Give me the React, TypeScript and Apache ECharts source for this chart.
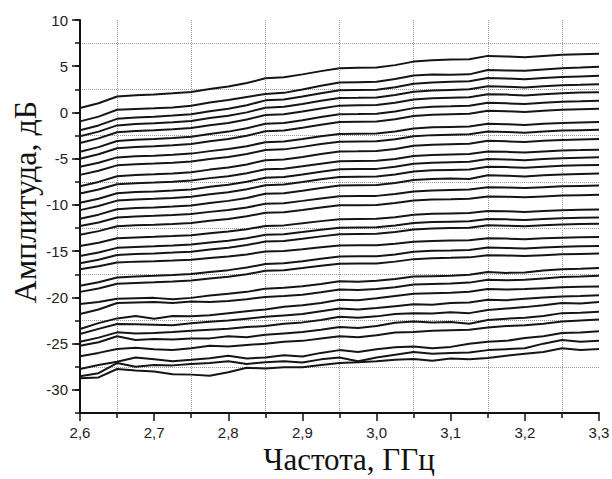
import React, { useEffect, useRef } from "react";
import * as echarts from "echarts";

const FREQ = [2.6, 2.625, 2.65, 2.675, 2.7, 2.725, 2.75, 2.775, 2.8, 2.825, 2.85, 2.875, 2.9, 2.925, 2.95, 2.975, 3.0, 3.025, 3.05, 3.075, 3.1, 3.125, 3.15, 3.175, 3.2, 3.225, 3.25, 3.275, 3.3];

const C01 = [0.48, 1.0, 1.73, 1.86, 1.95, 2.07, 2.22, 2.53, 2.8, 3.18, 3.7, 3.8, 4.12, 4.47, 4.79, 4.83, 4.86, 5.12, 5.5, 5.65, 5.72, 5.76, 6.12, 6.06, 5.97, 6.1, 6.23, 6.3, 6.35];
const C02 = [-0.96, -0.45, 0.30, 0.38, 0.45, 0.55, 0.72, 1.08, 1.35, 1.68, 1.99, 2.12, 2.48, 2.88, 3.24, 3.28, 3.32, 3.62, 4.0, 4.1, 4.08, 4.12, 4.6, 4.55, 4.5, 4.65, 4.79, 4.85, 4.95];
const C03 = [-1.93, -1.4, -0.69, -0.55, -0.46, -0.34, -0.19, 0.13, 0.4, 0.78, 1.31, 1.4, 1.72, 2.07, 2.4, 2.43, 2.46, 2.72, 3.11, 3.25, 3.31, 3.37, 3.72, 3.67, 3.58, 3.72, 3.84, 3.9, 3.96];
const C04 = [-2.58, -2.07, -1.4, -1.25, -1.17, -1.06, -0.92, -0.61, -0.35, 0.01, 0.52, 0.61, 0.92, 1.26, 1.57, 1.59, 1.62, 1.88, 2.24, 2.38, 2.44, 2.5, 2.83, 2.78, 2.69, 2.83, 2.95, 3.0, 3.06];
const C05 = [-3.3, -2.8, -2.14, -2.01, -1.92, -1.81, -1.68, -1.37, -1.13, -0.77, -0.27, -0.19, 0.11, 0.44, 0.74, 0.77, 0.8, 1.05, 1.4, 1.54, 1.6, 1.65, 1.98, 1.93, 1.84, 1.98, 2.09, 2.15, 2.2];
const C06 = [-4.25, -3.75, -3.09, -2.95, -2.87, -2.76, -2.62, -2.32, -2.07, -1.71, -1.21, -1.13, -0.83, -0.5, -0.19, -0.17, -0.14, 0.11, 0.47, 0.61, 0.66, 0.72, 1.05, 0.99, 0.91, 1.05, 1.16, 1.21, 1.27];
const C07 = [-5.0, -4.51, -3.87, -3.73, -3.65, -3.54, -3.41, -3.11, -2.87, -2.52, -2.03, -1.95, -1.65, -1.33, -1.03, -1.0, -0.98, -0.73, -0.38, -0.25, -0.19, -0.14, 0.18, 0.13, 0.05, 0.18, 0.29, 0.35, 0.4];
const C08 = [-5.88, -5.44, -4.86, -4.74, -4.67, -4.57, -4.45, -4.18, -3.96, -3.65, -3.21, -3.14, -2.87, -2.58, -2.32, -2.29, -2.27, -2.05, -1.73, -1.61, -1.56, -1.51, -1.22, -1.27, -1.35, -1.22, -1.13, -1.08, -1.03];
const C09 = [-6.75, -6.31, -5.72, -5.6, -5.53, -5.43, -5.31, -5.04, -4.82, -4.5, -4.06, -3.99, -3.72, -3.42, -3.16, -3.13, -3.11, -2.89, -2.57, -2.45, -2.4, -2.35, -2.06, -2.1, -2.18, -2.06, -1.96, -1.91, -1.86];
const C10 = [-7.97, -7.51, -6.9, -6.77, -6.69, -6.59, -6.47, -6.18, -5.96, -5.62, -5.16, -5.09, -4.81, -4.5, -4.22, -4.2, -4.17, -3.94, -3.61, -3.48, -3.43, -3.38, -3.07, -3.12, -3.2, -3.07, -2.97, -2.92, -2.87];
const C11 = [-8.76, -8.33, -7.76, -7.65, -7.57, -7.48, -7.36, -7.1, -6.89, -6.58, -6.15, -6.08, -5.82, -5.54, -5.28, -5.25, -5.23, -5.02, -4.71, -4.59, -4.54, -4.49, -4.21, -4.26, -4.33, -4.21, -4.11, -4.07, -4.02];
const C12 = [-9.77, -9.33, -8.73, -8.61, -8.54, -8.44, -8.32, -8.04, -7.82, -7.5, -7.06, -6.98, -6.71, -6.42, -6.15, -6.12, -6.1, -5.88, -5.55, -5.43, -5.38, -5.33, -5.04, -5.09, -5.16, -5.04, -4.94, -4.89, -4.84];
const C13 = [-10.56, -10.12, -9.53, -9.41, -9.34, -9.24, -9.12, -8.85, -8.63, -8.31, -7.87, -7.8, -7.53, -7.23, -6.97, -6.94, -6.92, -6.7, -6.38, -6.26, -6.21, -6.16, -5.87, -5.91, -5.99, -5.87, -5.77, -5.72, -5.67];
const C14 = [-11.49, -11.05, -10.46, -10.34, -10.27, -10.17, -10.05, -9.78, -9.56, -9.24, -8.8, -8.73, -8.46, -8.16, -7.9, -7.87, -7.85, -7.63, -7.31, -7.19, -7.14, -7.2, -6.8, -6.84, -6.92, -6.8, -6.7, -6.65, -6.6];
const C15 = [-12.28, -11.89, -11.36, -11.25, -11.18, -11.1, -10.99, -10.75, -10.55, -10.27, -9.87, -9.81, -9.56, -9.3, -9.06, -9.04, -9.02, -8.82, -8.54, -8.43, -8.38, -8.34, -8.08, -8.12, -8.18, -8.08, -7.99, -7.94, -7.9];
const C16 = [-13.22, -12.83, -12.31, -12.2, -12.14, -12.05, -11.95, -11.71, -11.51, -11.23, -10.84, -10.78, -10.54, -10.28, -10.04, -10.02, -10.0, -9.8, -9.53, -9.42, -9.38, -9.33, -9.08, -9.12, -9.18, -9.08, -8.99, -8.94, -8.9];
const C17 = [-14.44, -14.08, -13.61, -13.51, -13.45, -13.37, -13.27, -13.06, -12.88, -12.62, -12.27, -12.21, -11.99, -11.75, -11.54, -11.52, -11.5, -11.32, -11.06, -10.96, -10.92, -10.88, -10.65, -10.69, -10.75, -10.65, -10.57, -10.53, -10.49];
const C18 = [-15.52, -15.14, -14.64, -14.54, -14.48, -14.39, -14.29, -14.06, -13.87, -13.6, -13.23, -13.16, -12.93, -12.68, -12.46, -12.43, -12.41, -12.23, -11.95, -11.85, -11.81, -11.77, -11.52, -11.56, -11.62, -11.52, -11.43, -11.39, -11.35];
const C19 = [-16.31, -15.92, -15.41, -15.3, -15.24, -15.15, -15.05, -14.81, -14.62, -14.34, -13.96, -13.89, -13.66, -13.4, -13.16, -13.14, -13.12, -12.93, -12.65, -12.54, -12.5, -12.46, -12.2, -12.24, -12.31, -12.2, -12.12, -12.07, -12.03];
const C20 = [-16.95, -16.64, -16.22, -16.13, -16.08, -16.01, -15.92, -15.73, -15.58, -15.35, -15.04, -14.98, -14.79, -14.58, -14.39, -14.37, -14.36, -14.2, -13.97, -13.89, -13.85, -13.82, -13.61, -13.64, -13.7, -13.61, -13.54, -13.5, -13.47];
const C21 = [-18.75, -18.36, -17.84, -17.73, -17.67, -17.58, -17.48, -17.24, -17.05, -16.77, -16.38, -16.31, -16.08, -15.82, -15.58, -15.56, -15.54, -15.35, -15.07, -14.96, -14.92, -14.87, -14.61, -14.65, -14.72, -14.61, -14.53, -14.48, -14.44];
const C22 = [-19.4, -19.03, -18.53, -18.43, -18.37, -18.28, -18.18, -17.95, -17.76, -17.5, -17.12, -17.06, -16.83, -16.58, -16.36, -16.34, -16.32, -16.13, -15.86, -15.76, -15.72, -15.67, -15.43, -15.47, -15.53, -15.43, -15.34, -15.3, -15.26];
const C23 = [-20.7, -20.5, -20.15, -20.1, -20.05, -20.2, -20.05, -19.8, -19.6, -19.4, -19.05, -18.95, -18.8, -18.55, -18.25, -18.3, -18.2, -18.0, -17.75, -17.7, -17.65, -17.55, -17.25, -17.35, -17.3, -17.1, -16.95, -16.9, -16.81];
const C24 = [-21.8, -21.3, -20.6, -20.55, -20.5, -20.6, -20.45, -20.5, -20.4, -20.2, -19.95, -19.85, -19.7, -19.45, -19.15, -19.2, -19.1, -18.9, -18.6, -18.55, -18.5, -18.4, -18.1, -18.15, -18.1, -17.95, -17.8, -17.75, -17.67];
const C25 = [-23.42, -22.78, -22.27, -22.0, -22.3, -22.0, -22.05, -21.92, -21.7, -21.5, -21.3, -21.0, -20.85, -20.6, -20.25, -20.3, -20.1, -19.85, -19.6, -19.55, -19.5, -19.4, -19.1, -19.15, -19.1, -19.0, -18.9, -18.85, -18.82];
const C26 = [-23.96, -23.4, -22.88, -22.9, -22.95, -23.0, -22.8, -22.63, -22.5, -22.3, -22.1, -21.95, -21.8, -21.5, -21.2, -21.3, -21.15, -20.95, -20.75, -20.8, -20.6, -20.55, -20.25, -20.3, -20.15, -20.0, -19.9, -19.85, -19.76];
const C27 = [-24.79, -24.35, -23.78, -23.9, -23.85, -23.75, -23.6, -23.5, -23.4, -23.2, -23.1, -22.85, -22.7, -22.45, -22.1, -22.2, -22.05, -21.8, -21.7, -21.75, -21.6, -21.7, -21.35, -21.2, -21.05, -20.85, -20.6, -20.65, -20.5];
const C28 = [-25.22, -24.85, -24.2, -24.6, -24.5, -24.55, -24.45, -24.43, -24.2, -24.3, -24.05, -23.9, -23.75, -23.5, -23.2, -23.3, -23.1, -22.75, -22.6, -22.7, -22.65, -22.85, -22.45, -22.3, -22.2, -22.0, -21.7, -21.65, -21.56];
const C29 = [-26.37, -26.0, -25.58, -25.45, -25.6, -25.7, -25.5, -25.22, -25.3, -25.15, -25.0, -24.8, -24.7, -24.45, -24.2, -24.3, -24.1, -23.8, -23.75, -23.6, -23.55, -23.5, -23.25, -23.1, -23.0, -22.85, -22.6, -22.5, -22.4];
const C30 = [-27.74, -27.3, -26.95, -26.5, -26.7, -26.9, -26.75, -26.58, -26.3, -26.6, -26.5, -26.25, -26.4, -26.0, -25.7, -25.9, -25.6, -25.4, -25.3, -25.5, -25.35, -25.0, -24.8, -24.7, -24.4, -24.2, -23.85, -23.8, -23.66];
const C31 = [-28.53, -28.2, -27.1, -27.5, -27.3, -27.35, -27.2, -27.1, -26.9, -27.2, -27.0, -26.9, -27.05, -26.7, -26.5, -26.9, -26.5, -26.2, -25.9, -26.1, -26.0, -25.95, -25.7, -25.6, -25.5, -25.0, -24.6, -24.8, -24.68];
const C32 = [-28.74, -28.65, -27.74, -27.9, -28.0, -28.3, -28.35, -28.46, -28.1, -27.6, -27.7, -27.55, -27.56, -27.3, -27.1, -27.0, -26.9, -26.75, -26.66, -26.84, -26.6, -26.7, -26.55, -26.3, -26.1, -25.9, -25.5, -25.7, -25.58];

const CURVES = [C01, C02, C03, C04, C05, C06, C07, C08, C09, C10, C11, C12, C13, C14, C15, C16,
  C17, C18, C19, C20, C21, C22, C23, C24, C25, C26, C27, C28, C29, C30, C31, C32];

const Y_MAJOR = [-30, -25, -20, -15, -10, -5, 0, 5, 10];
const X_TITLE = "Частота, ГГц";
const Y_TITLE = "Амплитуда, дБ";

const SANS = "'Liberation Sans', Arial, sans-serif";
const SERIF = "'Liberation Serif', 'Times New Roman', serif";

export default function App() {
  const ref = useRef<HTMLDivElement>(null);
  useEffect(() => {
    const chart = echarts.init(ref.current!, null, { renderer: "svg" });
    const labelStyle = { fontFamily: SANS, fontSize: 15, color: "#222" };
    chart.setOption({
      animation: false,
      backgroundColor: "#ffffff",
      grid: { left: 80, right: 13, top: 20, bottom: 66, containLabel: false, outerBoundsMode: "none" },
      xAxis: [
        {
          type: "value",
          min: 2.6,
          max: 3.3,
          interval: 0.1,
          axisLine: { show: true, onZero: false, lineStyle: { color: "#111", width: 2 } },
          axisTick: { length: 8, lineStyle: { color: "#111", width: 1.5 } },
          minorTick: { show: true, splitNumber: 2, length: 5, lineStyle: { color: "#111", width: 1.5 } },
          splitLine: { show: false },
          minorSplitLine: { show: true, lineStyle: { color: "#9a9a9a", type: "dotted", width: 1 } },
          axisLabel: {
            ...labelStyle,
            margin: 12,
            formatter: (v: number) => v.toFixed(1).replace(".", ","),
          },
        },
      ],
      yAxis: [
        {
          type: "value",
          min: -32.5,
          max: 10,
          interval: 2.5,
          position: "left",
          axisLine: { show: true, onZero: false, lineStyle: { color: "#111", width: 2 } },
          axisTick: { show: true, length: 5, lineStyle: { color: "#111", width: 1.5 } },
          axisLabel: { show: false },
          splitLine: { show: true, lineStyle: { color: ["#9a9a9a", "transparent"], type: "dotted", width: 1 } },
        },
        {
          type: "value",
          min: -32.5,
          max: 10,
          position: "left",
          axisLine: { show: false },
          axisTick: { show: true, length: 8, customValues: Y_MAJOR, lineStyle: { color: "#111", width: 1.5 } },
          axisLabel: { ...labelStyle, margin: 12, customValues: Y_MAJOR, formatter: (v: number) => String(v) },
          splitLine: { show: false },
        },
      ],
      graphic: [
        {
          type: "text",
          x: 349,
          y: 459,
          style: {
            text: X_TITLE,
            font: "31px " + SERIF,
            fill: "#111",
            align: "center",
            verticalAlign: "middle",
          },
        },
        {
          type: "text",
          x: 25,
          y: 202,
          rotation: Math.PI / 2,
          style: {
            text: Y_TITLE,
            font: "32px " + SERIF,
            fill: "#111",
            align: "center",
            verticalAlign: "middle",
          },
        },
      ],
      series: CURVES.map((c, k) => ({
        name: "c" + (k + 1),
        type: "line",
        xAxisIndex: 0,
        yAxisIndex: 0,
        data: FREQ.map((f, i) => [f, c[i]]),
        showSymbol: false,
        symbol: "none",
        lineStyle: { color: "#151515", width: 2 },
        z: 3,
      })),
    });
    return () => chart.dispose();
  }, []);
  return (
    <div
      ref={ref}
      style={{ position: "absolute", left: 0, top: 0, width: 612, height: 479, background: "#fff" }}
    />
  );
}
